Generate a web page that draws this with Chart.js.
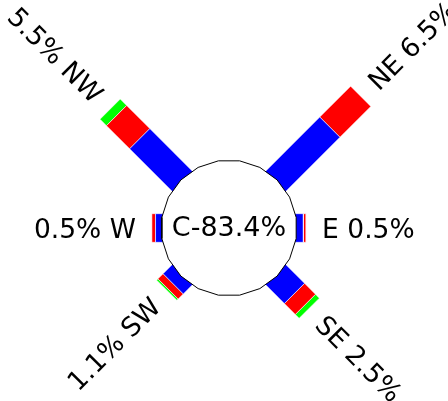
<!DOCTYPE html>
<html><head><meta charset="utf-8">
<script src="https://cdn.jsdelivr.net/npm/chart.js@4/dist/chart.umd.min.js"></script>
<style>html,body{margin:0;padding:0;background:#fff}#wrap{width:448px;height:401px}</style>
</head><body><div id="wrap"><canvas id="c" width="448" height="401"></canvas></div>
<script>
// ---- data ----
const directions = ['N', 'NE', 'E', 'SE', 'S', 'SW', 'W', 'NW'];
const lowSpeed   = [0, 4.1, 0.35, 1.35, 0, 0.6, 0.3, 3.2];
const midSpeed   = [0, 2.4, 0.15, 0.85, 0, 0.4, 0.2, 1.8];
const highSpeed  = [0, 0,   0,    0.3,  0, 0.1, 0,   0.5];
const calmPercent = 83.4;
const calmLabel = 'C';

// ---- style / layout ----
const seriesColors = ['#0000ff', '#ff0000', '#00ff00'];
const W = 448, H = 401;
const CENTER = {x: 229, y: 228};
const PX = 18.2;            // pixels per percent
const HOLE = 68 / PX;       // calm circle radius in percent units
const HALF_W = 14.3 / PX;   // half bar width
const LABEL_GAP = 16 / PX;
const FONT = '"DejaVu Sans", sans-serif';

const series = [lowSpeed, midSpeed, highSpeed];

function pt(r, th, off) {
  const ux = Math.sin(th), uy = Math.cos(th);
  const px = Math.cos(th), py = -Math.sin(th);
  return {x: r * ux + off * px, y: r * uy + off * py};
}

const datasets = [];
// calm circle (first dataset = drawn on top)
const circ = [];
const N = 20;
for (let k = 0; k <= N; k++) {
  const a = Math.PI / 2 + Math.PI / N + k * 2 * Math.PI / N;
  circ.push({x: HOLE * Math.cos(a), y: HOLE * Math.sin(a)});
}
datasets.push({data: circ, showLine: true, fill: 'shape', backgroundColor: '#ffffff',
  borderColor: '#000000', borderWidth: 1, pointRadius: 0, tension: 0});

directions.forEach((d, i) => {
  const th = i * Math.PI / 4;
  let cum = 0;
  series.forEach((s, si) => {
    const v = s[i];
    if (v <= 0) return;
    const r0 = si === 0 ? 0 : HOLE + cum;
    cum += v;
    const r1 = HOLE + cum;
    const poly = [pt(r0, th, -HALF_W), pt(r1, th, -HALF_W), pt(r1, th, HALF_W), pt(r0, th, HALF_W), pt(r0, th, -HALF_W)];
    datasets.push({data: poly, showLine: true, fill: 'shape', backgroundColor: seriesColors[si],
      borderColor: 'rgba(255,255,255,0.55)', borderWidth: 1, pointRadius: 0, tension: 0});
  });
});

const labelPlugin = {
  id: 'roseLabels',
  afterDatasetsDraw(chart) {
    const ctx = chart.ctx;
    const xs = chart.scales.x, ys = chart.scales.y;
    ctx.save();
    ctx.fillStyle = '#000';
    directions.forEach((d, i) => {
      const total = lowSpeed[i] + midSpeed[i] + highSpeed[i];
      if (total <= 0) return;
      const th = i * Math.PI / 4;
      const ux = Math.sin(th), uy = Math.cos(th);
      const r = HOLE + total + LABEL_GAP;
      const x = xs.getPixelForValue(r * ux), y = ys.getPixelForValue(r * uy);
      const left = ux < -0.01;
      const txt = left ? total.toFixed(1) + '% ' + d : d + ' ' + total.toFixed(1) + '%';
      let rot = 0;
      if (Math.abs(ux) > 0.01 && Math.abs(uy) > 0.01) rot = (ux * uy > 0) ? -Math.PI / 4 : Math.PI / 4;
      const fs = 26.5;
      ctx.font = fs + 'px ' + FONT;
      ctx.textAlign = left ? 'right' : 'left';
      ctx.textBaseline = 'alphabetic';
      ctx.save();
      ctx.translate(x, y);
      ctx.rotate(rot);
      ctx.fillText(txt, 0, fs * 0.729 / 2);
      ctx.restore();
    });
    const cx = xs.getPixelForValue(0), cy = ys.getPixelForValue(0);
    const fs = 27;
    ctx.font = fs + 'px ' + FONT;
    ctx.textAlign = 'center';
    ctx.textBaseline = 'alphabetic';
    ctx.fillText(calmLabel + '-' + calmPercent.toFixed(1) + '%', cx, cy + fs * 0.729 / 2 - 2);
    ctx.restore();
  }
};

new Chart(document.getElementById('c'), {
  type: 'scatter',
  data: {datasets},
  options: {
    responsive: false,
    animation: false,
    events: [],
    layout: {padding: 0},
    plugins: {legend: {display: false}, tooltip: {enabled: false}},
    scales: {
      x: {type: 'linear', display: false, min: -CENTER.x / PX, max: (W - CENTER.x) / PX},
      y: {type: 'linear', display: false, min: -(H - CENTER.y) / PX, max: CENTER.y / PX}
    }
  },
  plugins: [labelPlugin]
});
</script>
</body></html>
